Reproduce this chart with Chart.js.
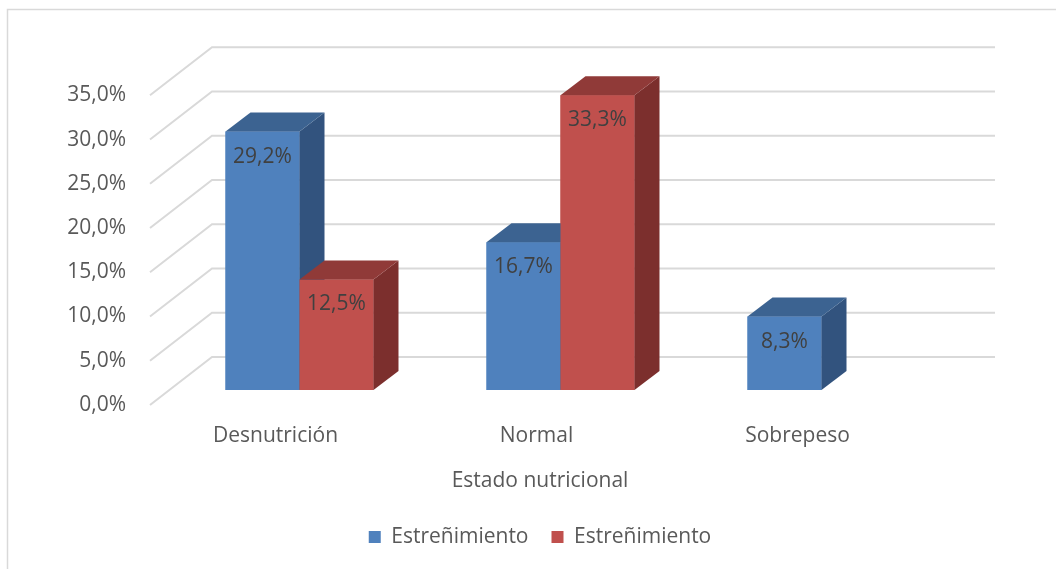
<!DOCTYPE html>
<html>
<head>
<meta charset="utf-8">
<script src="https://cdn.jsdelivr.net/npm/chart.js@4.4.0/dist/chart.umd.min.js"></script>
<style>
  html, body { margin: 0; padding: 0; background: #fff; }
  #wrap { width: 1056px; height: 569px; position: relative; }
</style>
</head>
<body>
<div id="wrap"><canvas id="chart"></canvas></div>
<script>
const categories = ["Desnutrición", "Normal", "Sobrepeso"];
const serieSi = [29.2, 16.7, 8.3];
const serieNo = [12.5, 33.3, null];
const serieNames = ["Estreñimiento", "Estreñimiento"];
const axisTitle = "Estado nutricional";
const yMax = 35;
const yStep = 5;

// depth of the 3D bars and of the floor/wall
const DX = 25, DY = -19;
const WALL_DX = 43, WALL_DY = -33;
const FRONT_DX = -19, FRONT_DY = 15;

const pct = (v) => v.toFixed(1).replace(".", ",") + "%";

Chart.defaults.font.family = '"Open Sans", "Noto Sans", sans-serif';
Chart.defaults.font.size = 21;
Chart.defaults.color = "#595959";

const cubes = {
  id: "cubes",
  beforeDraw(chart) {
    const ctx = chart.ctx;
    ctx.save();
    ctx.strokeStyle = "#d9d9d9";
    ctx.lineWidth = 1.5;
    ctx.beginPath();
    ctx.moveTo(1056, 9.5);
    ctx.lineTo(7.5, 9.5);
    ctx.lineTo(7.5, 569);
    ctx.stroke();
    ctx.restore();
  },
  beforeDatasetsDraw(chart) {
    const { ctx, chartArea } = chart;
    const y = chart.scales.y;
    ctx.save();
    ctx.strokeStyle = "#d9d9d9";
    ctx.lineWidth = 2;
    y.ticks.forEach((t) => {
      const py = y.getPixelForValue(t.value);
      ctx.beginPath();
      ctx.moveTo(chartArea.left + FRONT_DX, py + FRONT_DY);
      ctx.lineTo(chartArea.left + WALL_DX, py + WALL_DY);
      ctx.lineTo(chartArea.right + WALL_DX, py + WALL_DY);
      ctx.stroke();
    });
    ctx.restore();
  },
  afterDatasetsDraw(chart) {
    const ctx = chart.ctx;
    // left to right: front (redrawn by the element), side, top, label
    chart.data.datasets.forEach((ds, di) => {
      const meta = chart.getDatasetMeta(di);
      meta.data.forEach((bar, i) => {
        const v = ds.data[i];
        if (v == null) return;
        bar.draw(ctx, chart.chartArea);
        const { x, y, base, width } = bar.getProps(["x", "y", "base", "width"], true);
        const l = x - width / 2, r = x + width / 2;
        ctx.save();
        // side face
        ctx.fillStyle = ds.sideColor;
        ctx.beginPath();
        ctx.moveTo(r, y);
        ctx.lineTo(r + DX, y + DY);
        ctx.lineTo(r + DX, base + DY);
        ctx.lineTo(r, base);
        ctx.closePath();
        ctx.fill();
        // top face
        ctx.fillStyle = ds.topColor;
        ctx.beginPath();
        ctx.moveTo(l, y);
        ctx.lineTo(l + DX, y + DY);
        ctx.lineTo(r + DX, y + DY);
        ctx.lineTo(r, y);
        ctx.closePath();
        ctx.fill();
        // value label
        ctx.fillStyle = "#404040";
        ctx.font = '21px "Open Sans", "Noto Sans", sans-serif';
        ctx.textAlign = "center";
        ctx.textBaseline = "middle";
        ctx.fillText(pct(v), x, y + 25);
        ctx.restore();
      });
    });
  }
};

new Chart(document.getElementById("chart"), {
  type: "bar",
  data: {
    labels: categories,
    datasets: [
      {
        label: serieNames[0],
        data: serieSi,
        backgroundColor: "#4f81bd",
        sideColor: "#32537e",
        topColor: "#3c6391"
      },
      {
        label: serieNames[1],
        data: serieNo,
        backgroundColor: "#c0504d",
        sideColor: "#7c2f2d",
        topColor: "#903a38"
      }
    ]
  },
  options: {
    responsive: true,
    maintainAspectRatio: false,
    animation: false,
    categoryPercentage: 0.567,
    barPercentage: 1,
    layout: { padding: { left: 24, right: 0, top: 80.3, bottom: 11.5 } },
    scales: {
      x: {
        grid: { display: false, drawTicks: false },
        border: { display: false },
        ticks: { padding: 33.4, labelOffset: -24, color: "#595959" },
        afterFit: (s) => { s.height = 78.3; }
      },
      y: {
        min: 0,
        max: yMax,
        grid: { display: false, drawTicks: false },
        border: { display: false },
        ticks: { stepSize: yStep, padding: 43, labelOffset: 15, callback: (v) => pct(v) },
        afterFit: (s) => { s.width = 145; }
      },
      y2: {
        position: "right",
        grid: { display: false, drawTicks: false },
        border: { display: false },
        ticks: { display: false },
        afterFit: (s) => { s.width = 104; }
      }
    },
    plugins: {
      tooltip: { enabled: false },
      title: {
        display: true,
        text: axisTitle,
        position: "bottom",
        weight: 500,
        color: "#595959",
        font: { size: 21, weight: "normal" },
        padding: { top: 0, bottom: 10 }
      },
      legend: {
        position: "bottom",
        labels: { boxWidth: 12, boxHeight: 12, padding: 23, color: "#595959" }
      }
    }
  },
  plugins: [cubes]
});
</script>
</body>
</html>
